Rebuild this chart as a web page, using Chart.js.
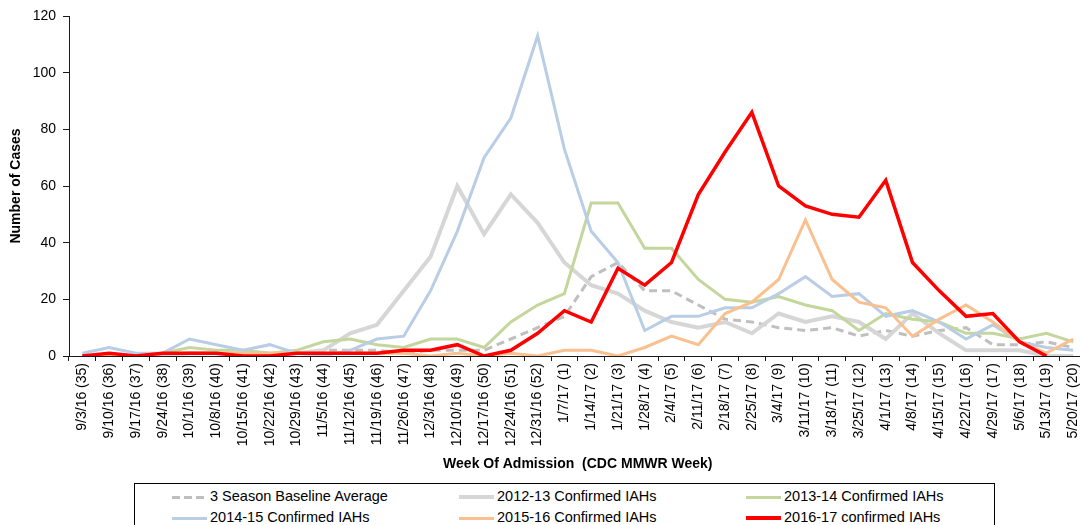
<!DOCTYPE html>
<html>
<head>
<meta charset="utf-8">
<title>Confirmed IAHs by Week of Admission</title>
<script src="https://cdn.jsdelivr.net/npm/chart.js@4.4.1/dist/chart.umd.min.js"></script>
<style>
    html, body { margin: 0; padding: 0; background: #fff; overflow: hidden; }
    #wrap { position: absolute; left: 0; top: 0; width: 1092px; height: 476px; }
    #legend {
        position: absolute; left: 134px; top: 483px; width: 861px; height: 60px;
        box-sizing: border-box; border: 1px solid #000;
        font: 14.5px "Liberation Sans", Arial, sans-serif; color: #000;
    }
    .leg-item { position: absolute; height: 18px; line-height: 18px; white-space: nowrap; }
    .leg-line { display: inline-block; width: 35px; height: 3px; vertical-align: middle; margin-right: 3px; }
</style>
</head>
<body>
<div id="wrap"><canvas id="chart" width="1092" height="476"></canvas></div>
<div id="legend"></div>

<script>
// Week of admission (CDC MMWR week)
const weeks = [
    '9/3/16 (35)', '9/10/16 (36)', '9/17/16 (37)', '9/24/16 (38)', '10/1/16 (39)', '10/8/16 (40)',
    '10/15/16 (41)', '10/22/16 (42)', '10/29/16 (43)', '11/5/16 (44)', '11/12/16 (45)', '11/19/16 (46)',
    '11/26/16 (47)', '12/3/16 (48)', '12/10/16 (49)', '12/17/16 (50)', '12/24/16 (51)', '12/31/16 (52)',
    '1/7/17 (1)', '1/14/17 (2)', '1/21/17 (3)', '1/28/17 (4)', '2/4/17 (5)', '2/11/17 (6)',
    '2/18/17 (7)', '2/25/17 (8)', '3/4/17 (9)', '3/11/17 (10)', '3/18/17 (11)', '3/25/17 (12)',
    '4/1/17 (13)', '4/8/17 (14)', '4/15/17 (15)', '4/22/17 (16)', '4/29/17 (17)', '5/6/17 (18)',
    '5/13/17 (19)', '5/20/17 (20)'
];

// Number of cases per week
const baselineAvg = [0, 0, 0, 0, 1, 1, 1, 1, 1, 2, 2, 2, 1, 2, 2, 2, 6, 10, 14, 28, 33, 23, 23, 18, 13, 12, 10, 9, 10, 7, 9, 7, 9, 10, 4, 4, 5, 3];
const season1213 = [0, 0, 0, 0, 1, 1, 0, 0, 1, 2, 8, 11, 23, 35, 60, 43, 57, 47, 33, 25, 22, 16, 12, 10, 12, 8, 15, 12, 14, 12, 6, 15, 8, 2, 2, 2, 0, 0];
const season1314 = [0, 0, 0, 1, 3, 2, 2, 1, 2, 5, 6, 4, 3, 6, 6, 3, 12, 18, 22, 54, 54, 38, 38, 27, 20, 19, 21, 18, 16, 9, 15, 13, 12, 8, 8, 6, 8, 5];
const season1415 = [1, 3, 1, 1, 6, 4, 2, 4, 1, 0, 2, 6, 7, 23, 44, 70, 84, 113, 73, 44, 33, 9, 14, 14, 17, 17, 22, 28, 21, 22, 14, 16, 12, 6, 11, 5, 3, 2];
const season1516 = [0, 0, 0, 1, 1, 1, 1, 1, 1, 1, 1, 1, 1, 0, 1, 0, 1, 0, 2, 2, 0, 3, 7, 4, 15, 19, 27, 48, 27, 19, 17, 7, 13, 18, 12, 5, 1, 6];
const season1617 = [0, 1, 0, 1, 1, 1, 0, 0, 1, 1, 1, 1, 2, 2, 4, 0, 2, 8, 16, 12, 31, 25, 33, 57, 72, 86, 60, 53, 50, 49, 62, 33, 23, 14, 15, 5, 0, null];

const yTicks = { min: 0, max: 120, step: 20 };

const FONT = '"Liberation Sans", Arial, sans-serif';
const AXIS = '#1a1a1a';

function line(label, data, color, width, order, dash) {
    return {
        label: label, data: data, borderColor: color, backgroundColor: color,
        borderWidth: width, borderDash: dash || [], order: order,
        pointRadius: 0, pointHoverRadius: 0, tension: 0, fill: false, spanGaps: false
    };
}

const datasets = [
    line('3 Season Baseline Average', baselineAvg, '#bfbfbf', 3, 5, [8, 5]),
    line('2012-13 Confirmed IAHs', season1213, '#d6d6d6', 4, 4),
    line('2013-14 Confirmed IAHs', season1314, '#c3d69b', 3, 3),
    line('2014-15 Confirmed IAHs', season1415, '#b9cde5', 3, 2),
    line('2015-16 Confirmed IAHs', season1516, '#fac090', 3, 1),
    line('2016-17 confirmed IAHs', season1617, '#ff0000', 3.5, 0)
];

const chart = new Chart(document.getElementById('chart'), {
    type: 'line',
    data: { labels: weeks, datasets: datasets },
    options: {
        responsive: false,
        animation: false,
        devicePixelRatio: 1,
        layout: { padding: { top: 16, right: 0, bottom: 0, left: 0 } },
        plugins: { legend: { display: false }, tooltip: { enabled: false } },
        scales: {
            x: {
                offset: true,
                afterFit: s => { s.height = 120; },
                grid: { drawOnChartArea: false, drawTicks: true, tickLength: 5, color: AXIS, offset: true },
                border: { display: true, color: AXIS, width: 1 },
                ticks: {
                    autoSkip: false, minRotation: 90, maxRotation: 90, padding: 2,
                    color: '#000', font: { family: FONT, size: 14 }
                },
                title: {
                    display: true, text: 'Week Of Admission  (CDC MMWR Week)', color: '#000',
                    font: { family: FONT, size: 14, weight: 'bold' }, padding: { top: 0, bottom: 3 }
                }
            },
            y: {
                min: yTicks.min, max: yTicks.max,
                afterFit: s => { s.width = 69; },
                grid: { drawOnChartArea: false, drawTicks: true, tickLength: 6, color: AXIS },
                border: { display: true, color: AXIS, width: 1 },
                ticks: { stepSize: yTicks.step, padding: 7, color: '#000', font: { family: FONT, size: 14 } },
                title: {
                    display: true, text: 'Number of Cases', color: '#000',
                    font: { family: FONT, size: 14, weight: 'bold' }, padding: { top: 8, bottom: 0 }
                }
            }
        }
    }
});

// ===================== LEGEND (boxed, 3 columns) =====================
const legendBox = document.getElementById('legend');
chart.data.datasets.forEach((ds, i) => {
    const col = i % 3, row = Math.floor(i / 3);
    const item = document.createElement('div');
    item.className = 'leg-item';
    item.style.left = (37 + col * 287) + 'px';
    item.style.top = (3 + row * 21) + 'px';
    const sample = document.createElement('span');
    sample.className = 'leg-line';
    sample.style.height = Math.round(ds.borderWidth) + 'px';
    if (ds.borderDash.length) {
        sample.style.background = `repeating-linear-gradient(to right, ${ds.borderColor} 0 8px, transparent 8px 12px)`;
    } else {
        sample.style.background = ds.borderColor;
    }
    item.appendChild(sample);
    item.appendChild(document.createTextNode(ds.label));
    legendBox.appendChild(item);
});
</script>
</body>
</html>
